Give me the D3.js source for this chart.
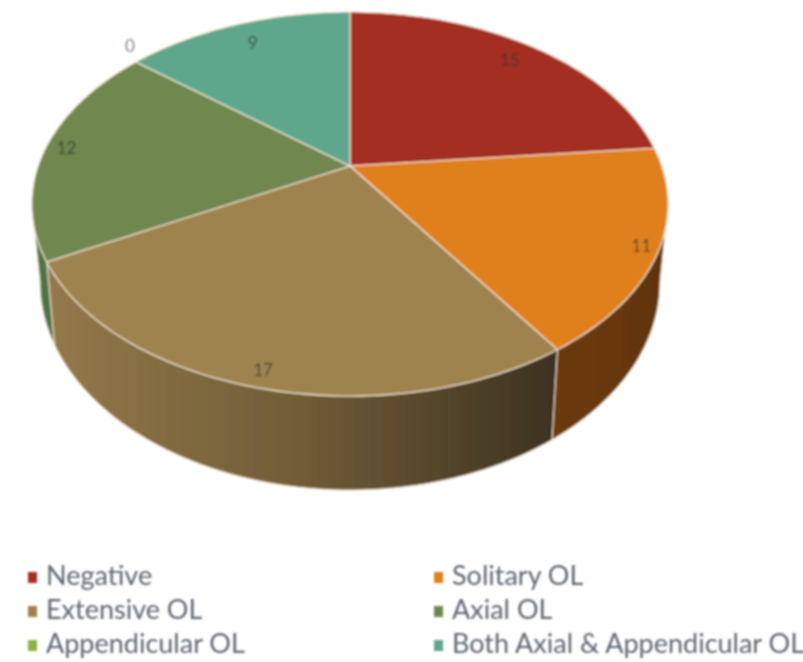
<!DOCTYPE html>
<html><head><meta charset="utf-8">
<script src="https://cdnjs.cloudflare.com/ajax/libs/d3/7.8.5/d3.min.js"></script>
<style>html,body{margin:0;background:#fff}svg{display:block}</style></head>
<body><svg id="c" width="803" height="662"></svg>
<script>
const categories=["Negative","Solitary OL","Extensive OL","Axial OL","Appendicular OL","Both Axial & Appendicular OL"];
const values=[15,11,17,12,0,9];
const topColors=["#a52e20","#e0801f","#9e8350","#70874f","#8fb04a","#5fa78c"];
const sideStops=[["#5a170f","#5a170f","#5a170f"],["#6b3a0a","#683809","#5e3208"],["#94794a","#6f5c37","#3d3220"],["#4f7345","#4f7345","#4f7345"],["#5f7a30","#5f7a30","#5f7a30"],["#3e7a64","#3e7a64","#3e7a64"]];

const svg=d3.select("#c");
const defs=svg.append("defs");
defs.append("filter").attr("id","soft").attr("x","-5%").attr("y","-5%").attr("width","110%").attr("height","110%")
  .append("feGaussianBlur").attr("stdDeviation",0.8);
const root=svg.append("g").attr("filter","url(#soft)");

// tilted-disc projection of the unit circle: top face and bottom face
const cx=350,k=0.198;
const topFace={R:311.8,y0:166,a:-151.6}, baseFace={R:303.8,y0:240.8,a:-152.2};
const project=(ang,r=1,f=topFace)=>{const u=r*Math.sin(ang),v=r*Math.cos(ang),w=1+k*v;
  return [cx+f.R*u/w,(f.y0+f.a*v)/w];};
const pie=d3.pie().sort(null).value(d=>d)(values);
const line=d3.line();
const color=d3.scaleOrdinal(categories,topColors);
const rim="#f7e8d6";
const sampleArc=(a0,a1)=>d3.range(0,61).map(i=>a0+(a1-a0)*i/60);

// side walls: front part of the rim, between the two silhouette tangents
const front0=Math.acos(-k), front1=2*Math.PI-front0;
pie.forEach((d,i)=>{
  const s=Math.max(d.startAngle,front0), e=Math.min(d.endAngle,front1);
  if(e<=s) return;
  const angles=sampleArc(s,e);
  const upper=angles.map(t=>project(t));
  const low=angles.map(t=>project(t,1,baseFace)).reverse();
  const xs=upper.concat(low).map(p=>p[0]);
  const id="side"+i;
  const g=defs.append("linearGradient").attr("id",id).attr("gradientUnits","userSpaceOnUse")
    .attr("x1",d3.min(xs)).attr("x2",d3.max(xs)).attr("y1",0).attr("y2",0);
  sideStops[i].forEach((c,j)=>g.append("stop").attr("offset",j/2).attr("stop-color",c));
  root.append("path").attr("d",line(upper.concat(low))+"Z").attr("fill",`url(#${id})`)
    .attr("stroke",rim).attr("stroke-width",0.9).attr("stroke-linejoin","round");
});

// top face wedges
pie.forEach((d,i)=>{
  if(d.endAngle-d.startAngle<=0) return;
  const pts=[[cx,topFace.y0]].concat(sampleArc(d.startAngle,d.endAngle).map(t=>project(t)));
  root.append("path").attr("d",line(pts)+"Z").attr("fill",color(categories[i]))
    .attr("stroke",rim).attr("stroke-width",1.05).attr("stroke-linejoin","round");
});

// value labels
const labelR=[0.86,0.95,0.94,0.93,1,0.84];
pie.forEach((d,i)=>{
  const mid=(d.startAngle+d.endAngle)/2;
  const p=project(mid,labelR[i]);
  const zero=d.value===0;
  root.append("text").text(d.value).attr("x",p[0]+(zero?-6:0)).attr("y",p[1]+(zero?-14:0))
    .attr("text-anchor","middle").attr("dominant-baseline","middle")
    .attr("font-family","Lato, sans-serif").attr("font-size",17)
    .attr("fill",zero?"#7f8896":"#2f362f").attr("fill-opacity",zero?1:0.8);
});

// legend
const colX=d3.scaleOrdinal([0,1],[28,434]);
const rowY=d3.scaleOrdinal([0,1,2],[577,611,645]);
categories.forEach((c,i)=>{
  const col=i%2,row=Math.floor(i/2);
  root.append("rect").attr("x",colX(col)).attr("y",rowY(row)-5).attr("width",9).attr("height",11).attr("fill",topColors[i]);
  root.append("text").text(c).attr("x",colX(col)+18).attr("y",rowY(row)+1)
    .attr("dominant-baseline","middle").attr("font-family","Lato, sans-serif").attr("font-size",27)
    .attr("fill","#5f6670");
});
</script></body></html>
